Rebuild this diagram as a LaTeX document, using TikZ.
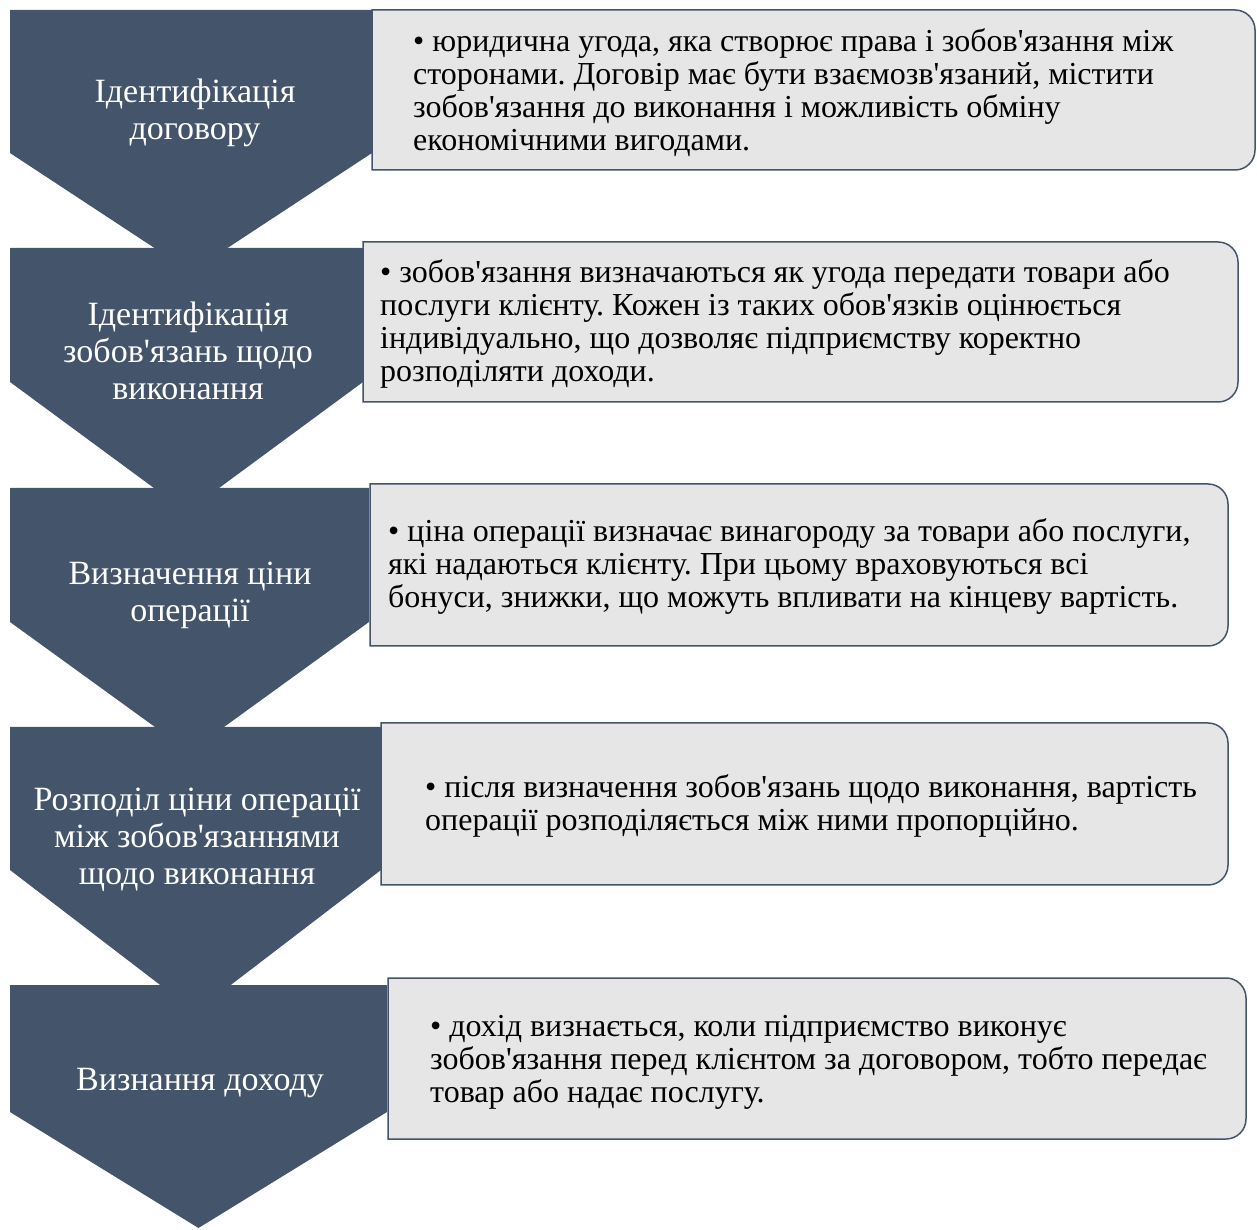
\documentclass[tikz,border=0pt]{standalone}
\usepackage{fontspec}
\newfontfamily\uafont{Liberation Serif}
\definecolor{chev_blue}{RGB}{68, 84, 106}
\definecolor{note_grey}{RGB}{231, 230, 230}
\tikzstyle{chev}=[fill=chev_blue]
\tikzstyle{note}=[fill=note_grey,draw=chev_blue,line width=1.5pt]
\tikzstyle{lbl}=[text=white,align=center,inner sep=0pt,
  font=\uafont\fontsize{34}{37}\selectfont]
\tikzstyle{txt}=[anchor=west,align=left,inner sep=0pt,
  font=\uafont\fontsize{32}{33}\selectfont\frenchspacing]

\begin{document}
\begin{tikzpicture}[x=1pt,y=1pt]
    \useasboundingbox (0,0) rectangle (1257,1229);
    \fill [style=chev] (10,1219) -- (372,1219) -- (372,1076) -- (191,957) -- (10,1076) -- cycle;
    \fill [style=chev] (10,981) -- (363,981) -- (363,847) -- (186.5,717) -- (10,847) -- cycle;
    \fill [style=chev] (10,741) -- (369,741) -- (369,607) -- (189.5,477) -- (10,607) -- cycle;
    \fill [style=chev] (10,502) -- (381,502) -- (381,359) -- (195.5,217) -- (10,359) -- cycle;
    \fill [style=chev] (10,244) -- (387,244) -- (387,117) -- (198.5,1) -- (10,117) -- cycle;
    \draw [style=note] (372,1059) -- (372,1219) -- (1235,1219) arc[start angle=90,end angle=0,radius=20]
      -- (1255,1079) arc[start angle=0,end angle=-90,radius=20] -- cycle;
    \draw [style=note] (363,827) -- (363,987) -- (1218,987) arc[start angle=90,end angle=0,radius=20]
      -- (1238,847) arc[start angle=0,end angle=-90,radius=20] -- cycle;
    \draw [style=note] (370,583) -- (370,745) -- (1208,745) arc[start angle=90,end angle=0,radius=20]
      -- (1228,603) arc[start angle=0,end angle=-90,radius=20] -- cycle;
    \draw [style=note] (381,344) -- (381,506) -- (1208,506) arc[start angle=90,end angle=0,radius=20]
      -- (1228,364) arc[start angle=0,end angle=-90,radius=20] -- cycle;
    \draw [style=note] (388,90) -- (388,251) -- (1226,251) arc[start angle=90,end angle=0,radius=20]
      -- (1246,110) arc[start angle=0,end angle=-90,radius=20] -- cycle;
    \node [style=lbl] (step1) at (195,1116) {Ідентифікація\\договору};
    \node [style=lbl] (step2) at (188,878) {Ідентифікація\\зобов'язань щодо\\виконання};
    \node [style=lbl] (step3) at (190,634) {Визначення ціни\\операції};
    \node [style=lbl] (step4) at (197,389) {Розподіл ціни операції\\між зобов'язаннями\\щодо виконання};
    \node [style=lbl] (step5) at (200,146) {Визнання доходу};
    \node [style=txt] (text1) at (413,1136) {• юридична угода, яка створює права і зобов'язання між\\сторонами. Договір має бути взаємозв'язаний, містити\\зобов'язання до виконання і можливість обміну\\економічними вигодами.};
    \node [style=txt] (text2) at (380,905) {• зобов'язання визначаються як угода передати товари або\\послуги клієнту. Кожен із таких обов'язків оцінюється\\індивідуально, що дозволяє підприємству коректно\\розподіляти доходи.};
    \node [style=txt] (text3) at (388,662) {• ціна операції визначає винагороду за товари або послуги,\\які надаються клієнту. При цьому враховуються всі\\бонуси, знижки, що можуть впливати на кінцеву вартість.};
    \node [style=txt] (text4) at (425,423) {• після визначення зобов'язань щодо виконання, вартість\\операції розподіляється між ними пропорційно.};
    \node [style=txt] (text5) at (430,167) {• дохід визнається, коли підприємство виконує\\зобов'язання перед клієнтом за договором, тобто передає\\товар або надає послугу.};
\end{tikzpicture}
\end{document}
